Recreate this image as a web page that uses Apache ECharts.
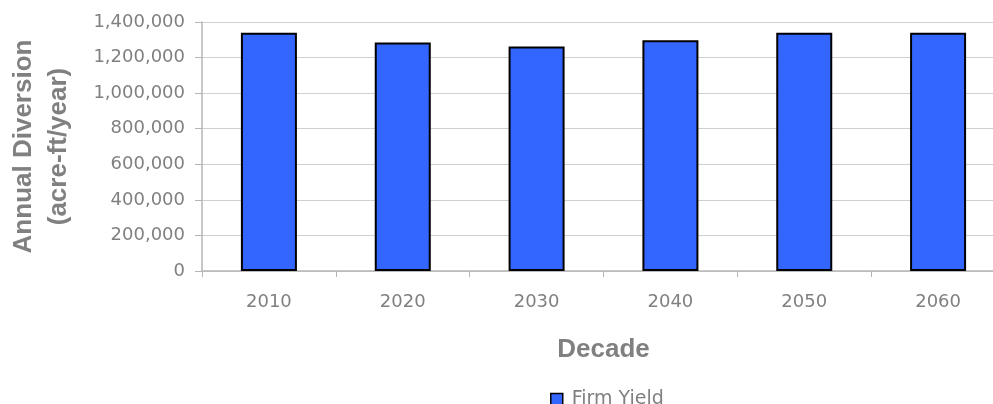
<!DOCTYPE html>
<html>
<head>
<meta charset="utf-8">
<script src="https://cdn.jsdelivr.net/npm/echarts@6/dist/echarts.min.js"></script>
<style>
  html, body { margin: 0; padding: 0; background: #fff; }
  #chart { width: 993px; height: 404px; }
</style>
</head>
<body>
<div id="chart"></div>
<script>
// decades on the x axis
const decades = ["2010", "2020", "2030", "2040", "2050", "2060"];
// firm yield, acre-ft/year
const firmYield = [1340000, 1285000, 1262000, 1298000, 1340000, 1340000];
const yTicks = [0, 200000, 400000, 600000, 800000, 1000000, 1200000, 1400000];

const gray = "#808080";
const chart = echarts.init(document.getElementById("chart"));

chart.setOption({
  animation: false,
  grid: { left: 202, top: 22, bottom: 133, width: 803, outerBoundsMode: "none", containLabel: false },
  legend: {
    data: ["Firm Yield"],
    left: 545,
    top: 385,
    icon: "rect",
    itemWidth: 12,
    itemHeight: 12,
    itemStyle: { color: "#3366FF", borderColor: "#000", borderWidth: 1.5 },
    textStyle: { color: gray, fontFamily: "DejaVu Sans", fontSize: 19, padding: [0, 0, 0, 4] }
  },
  xAxis: {
    type: "category",
    data: decades,
    name: "Decade",
    nameLocation: "middle",
    nameGap: 66,
    nameTextStyle: { color: gray, fontFamily: "Liberation Sans", fontWeight: "bold", fontSize: 26 },
    axisLine: { lineStyle: { color: "#b5b5b5", width: 1.5 } },
    axisTick: { show: true, length: 6, lineStyle: { color: "#b5b5b5" } },
    axisLabel: { color: gray, fontFamily: "DejaVu Sans", fontSize: 18, margin: 22 }
  },
  yAxis: {
    type: "value",
    min: yTicks[0],
    max: yTicks[yTicks.length - 1],
    interval: yTicks[1] - yTicks[0],
    name: "Annual Diversion\n(acre-ft/year)",
    nameLocation: "middle",
    nameGap: 126,
    nameRotate: 90,
    nameTextStyle: { color: gray, fontFamily: "Liberation Sans", fontWeight: "bold", fontSize: 26, lineHeight: 35 },
    axisLine: { show: true, lineStyle: { color: "#b5b5b5", width: 1.5 } },
    axisTick: { show: true, length: 7, lineStyle: { color: "#b5b5b5" } },
    splitLine: { lineStyle: { color: "#d0d0d0" } },
    axisLabel: {
      color: gray, fontFamily: "DejaVu Sans", fontSize: 18, margin: 17,
      formatter: v => v.toLocaleString("en-US")
    }
  },
  series: [{
    name: "Firm Yield",
    type: "bar",
    data: firmYield,
    barWidth: 56,
    itemStyle: { color: "#3366FF", borderColor: "#000", borderWidth: 2 }
  }]
});
</script>
</body>
</html>
